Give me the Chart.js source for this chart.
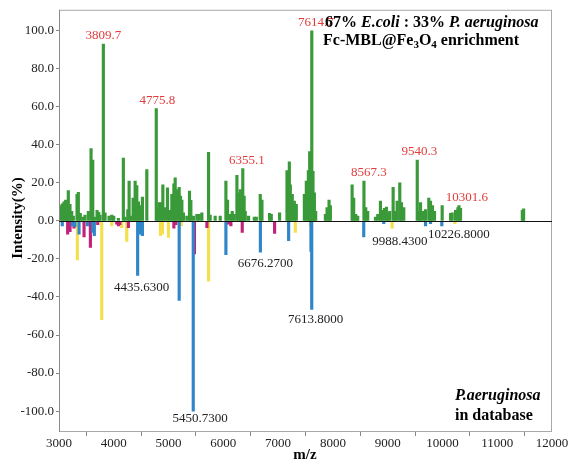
<!DOCTYPE html>
<html>
<head>
<meta charset="utf-8">
<script src="https://cdn.jsdelivr.net/npm/chart.js@4.4.1/dist/chart.umd.min.js"></script>
<style>
  html, body { margin: 0; background: #fff; }
  #wrap { width: 580px; height: 464px; }
</style>
</head>
<body>
<div id="wrap"><canvas id="spectrum"></canvas></div>
<script>
// Mixed sample after enrichment: [m/z, relative intensity %]
const mixSpectrum = [
  [3040, 8], [3060, 9], [3091, 10], [3122, 11], [3150, 7], [3170, 16], [3201, 8.7], [3232, 5],
  [3262, 2.6], [3329, 14], [3353, 15], [3389, 4], [3433, 2], [3475, 3], [3536, 5], [3585, 38],
  [3616, 32], [3645, 2], [3695, 5.5], [3725, 4.5], [3750, 3], [3809.7, 93], [3841, 4.3],
  [3914, 2.6], [3963, 3], [3999, 2.6], [4084, 1.4], [4175, 33], [4206, 2], [4256, 6], [4280, 21],
  [4316, 2.6], [4353, 12], [4390, 21], [4420, 18.6], [4450, 10], [4481, 8], [4523, 12.5],
  [4603, 27], [4775.8, 59], [4800, 6.6], [4828, 9.6], [4865, 9.6], [4896, 19], [4938, 7],
  [4980, 17.4], [5024, 5.5], [5060, 14], [5097, 19.5], [5121, 22.6], [5157, 16.5], [5194, 17.7],
  [5218, 13], [5243, 11], [5272, 4.3], [5334, 2.6], [5382, 15.7], [5407, 10.8], [5455, 2.6],
  [5517, 3.5], [5559, 3.5], [5608, 4.3], [5730, 36], [5760, 3], [5851, 2.6], [5943, 2.6],
  [6047, 21], [6077, 11], [6126, 3.5], [6163, 5], [6199, 3.5], [6248, 24], [6278, 14.8],
  [6309, 16.5], [6330, 15], [6355.1, 27.5], [6380, 13], [6400, 5], [6461, 2.6], [6565, 2],
  [6602, 2], [6674, 14], [6705, 11], [6844, 4], [6875, 3.5], [7027, 4.3], [7162, 26.5],
  [7186, 15.7], [7205, 31], [7223, 19], [7259, 14], [7296, 10.4], [7332, 8.7], [7479, 14],
  [7515, 21], [7552, 26.5], [7576, 36.5], [7595, 22], [7614.7, 100], [7637, 26], [7662, 14.8],
  [7686, 5], [7863, 3.5], [7894, 7], [7930, 11], [7954, 8], [8351, 19], [8380, 12], [8417, 3.5],
  [8453, 2.6], [8567.3, 21], [8600, 7], [8636, 5], [8777, 2], [8819, 3.5], [8868, 10.4],
  [8899, 5.5], [8941, 6.6], [8978, 7.3], [9008, 4.3], [9038, 5], [9100, 17.7], [9129, 5],
  [9173, 10.4], [9221, 20], [9252, 9.6], [9294, 7], [9540.3, 32], [9576, 5], [9600, 9.6],
  [9649, 5], [9691, 6], [9751, 12], [9782, 10.4], [9818, 8], [9855, 5], [9995, 8], [10148, 4],
  [10178, 4.3], [10239, 5.5], [10282, 7], [10301.6, 8], [10330, 6.6], [11458, 5.5], [11482, 6.4]
];

// P. aeruginosa database peaks (drawn downward), three groups
const dbBlue = [
  [3060, -2.6], [3243, -2.6], [3290, -3], [3366, -7], [3520, -2.6], [3616, -6], [3645, -7.8],
  [4435.63, -28.7], [4470, -7], [4523, -7.8], [5194, -41.8], [5450.73, -100], [6047, -17.7],
  [6676.27, -16.5], [7192, -10.4], [7600, -16], [7613.8, -46.6], [8563, -8.4], [8929, -1.4],
  [9691, -2.6], [9782, -1.4], [9988.43, -2.6]
];
const dbMagenta = [
  [3158, -7], [3201, -5.6], [3274, -3.8], [3457, -8.4], [3573, -14], [3707, -2], [4054, -1.7],
  [4084, -2.6], [4110, -2], [4267, -3.5], [5097, -3.8], [5133, -2], [5473, -17.4], [5700, -3.5],
  [6095, -1.7], [6138, -2.6], [6345, -6], [6936, -6.6]
];
const dbYellow = [
  [3335, -20.5], [3780, -52], [3963, -2.6], [4145, -3.5], [4237, -10.8], [4852, -7.8],
  [4888, -7], [4998, -8.7], [5230, -2.6], [5730, -31.7], [7314, -6], [7589, -2.6], [9082, -3.8],
  [10226.8, -1.4]
];

const xTicks = [3000, 4000, 5000, 6000, 7000, 8000, 9000, 10000, 11000, 12000];
const yTicks = [-100, -80, -60, -40, -20, 0, 20, 40, 60, 80, 100];

// annotated peaks: sample (red, above) and database (black, below)
const sampleLabels = [3809.7, 4775.8, 6355.1, 7614.7, 8567.3, 9540.3, 10301.6];
const dbLabels = [4435.63, 5450.73, 6676.27, 7613.8, 9988.43, 10226.8];

const SERIF = "'Liberation Serif', 'Times New Roman', serif";

const toPoints = arr => arr.map(([x, y]) => ({ x, y }));
const findPeak = (list, mz) => list.find(p => p[0] === mz);

function drawRuns(ctx, x, y, runs) {
  runs.forEach(r => {
    ctx.font = r.font;
    ctx.fillText(r.text, x, y + (r.dy || 0));
    x += ctx.measureText(r.text).width;
  });
}

const spectrumDecor = {
  id: 'spectrumDecor',
  afterDatasetsDraw(chart) {
    const { ctx, chartArea: a, scales: { x, y } } = chart;
    ctx.save();

    // frame
    ctx.strokeStyle = '#a9a9a9';
    ctx.lineWidth = 1;
    ctx.strokeRect(a.left + 0.5, a.top + 0.5, a.width - 1, a.height - 1);
    ctx.strokeStyle = '#8a8a8a';
    ctx.beginPath();
    ctx.moveTo(a.left + 0.5, a.top);
    ctx.lineTo(a.left + 0.5, a.bottom);
    ctx.stroke();

    // zero line
    const y0 = Math.round(y.getPixelForValue(0)) + 0.5;
    ctx.strokeStyle = '#111';
    ctx.beginPath();
    ctx.moveTo(a.left, y0);
    ctx.lineTo(a.right, y0);
    ctx.stroke();

    // red peak labels above the sample peaks
    const redDx = [0, 1, 4, 4, 5, 2, 8];
    ctx.font = '13px ' + SERIF;
    ctx.fillStyle = '#e23b3b';
    ctx.textAlign = 'center';
    ctx.textBaseline = 'middle';
    sampleLabels.forEach((mz, i) => {
      const p = findPeak(mixSpectrum, mz);
      ctx.fillText(mz.toFixed(1), x.getPixelForValue(mz) + redDx[i], y.getPixelForValue(p[1]) - 8);
    });

    // black labels below database peaks
    const blackOff = [[4, 12.5], [7, 7], [5, 11], [4, 10], [-42, 16], [4, 11]];
    ctx.fillStyle = '#222';
    dbLabels.forEach((mz, i) => {
      const p = findPeak(dbBlue, mz) || findPeak(dbYellow, mz) || findPeak(dbMagenta, mz);
      ctx.fillText(mz.toFixed(4), x.getPixelForValue(mz) + blackOff[i][0], y.getPixelForValue(p[1]) + blackOff[i][1]);
    });

    // header text
    const b = 'bold 16px ' + SERIF;
    const bi = 'italic bold 16px ' + SERIF;
    const sub = 'bold 11px ' + SERIF;
    ctx.fillStyle = '#000';
    ctx.textAlign = 'left';
    ctx.textBaseline = 'alphabetic';
    drawRuns(ctx, 325, 27, [
      { text: '67% ', font: b }, { text: 'E.coli', font: bi },
      { text: ' : 33% ', font: b }, { text: 'P. aeruginosa', font: bi }
    ]);
    drawRuns(ctx, 323, 45, [
      { text: 'Fc-MBL@Fe', font: b }, { text: '3', font: sub, dy: 3 },
      { text: 'O', font: b }, { text: '4', font: sub, dy: 3 },
      { text: ' enrichment', font: b }
    ]);
    drawRuns(ctx, 455, 400, [{ text: 'P.aeruginosa', font: bi }]);
    drawRuns(ctx, 455, 420, [{ text: 'in database', font: b }]);

    // axis titles
    ctx.font = 'bold 15px ' + SERIF;
    ctx.textAlign = 'center';
    ctx.textBaseline = 'middle';
    ctx.fillText('m/z', 305, 455);
    ctx.translate(18, 218);
    ctx.rotate(-Math.PI / 2);
    ctx.fillText('Intensity(%)', 0, 0);

    ctx.restore();
  }
};

new Chart(document.getElementById('spectrum'), {
  type: 'bar',
  data: {
    datasets: [
      { label: 'sample', data: toPoints(mixSpectrum), backgroundColor: '#3a9a3a', barThickness: 2.5 },
      { label: 'db blue', data: toPoints(dbBlue), backgroundColor: '#2f86c9', barThickness: 2.5 },
      { label: 'db magenta', data: toPoints(dbMagenta), backgroundColor: '#c2227a', barThickness: 2.5 },
      { label: 'db yellow', data: toPoints(dbYellow), backgroundColor: '#f4e04d', barThickness: 2.5 }
    ]
  },
  options: {
    responsive: true,
    maintainAspectRatio: false,
    animation: false,
    layout: { padding: { left: 0, right: 28, top: 8, bottom: 0 } },
    datasets: { bar: { grouped: false, borderWidth: 0 } },
    plugins: { legend: { display: false }, tooltip: { enabled: false } },
    scales: {
      x: {
        type: 'linear',
        offset: false,
        min: 3000,
        max: 12000,
        afterBuildTicks: s => { s.ticks = xTicks.map(v => ({ value: v })); },
        afterFit: s => { s.height = 32; },
        border: { display: false },
        grid: { drawOnChartArea: false, tickLength: 4, color: '#888' },
        ticks: {
          padding: 0,
          maxRotation: 0,
          autoSkip: false,
          color: '#222',
          font: { family: SERIF, size: 13 },
          callback: v => String(v)
        }
      },
      y: {
        min: -111,
        max: 111,
        afterBuildTicks: s => { s.ticks = yTicks.map(v => ({ value: v })); },
        afterFit: s => { s.width = 59; },
        border: { display: false },
        grid: { drawOnChartArea: false, tickLength: 3, color: '#888' },
        ticks: {
          padding: 2,
          color: '#222',
          font: { family: SERIF, size: 13 },
          callback: v => Number(v).toFixed(1)
        }
      }
    }
  },
  plugins: [spectrumDecor]
});
</script>
</body>
</html>
